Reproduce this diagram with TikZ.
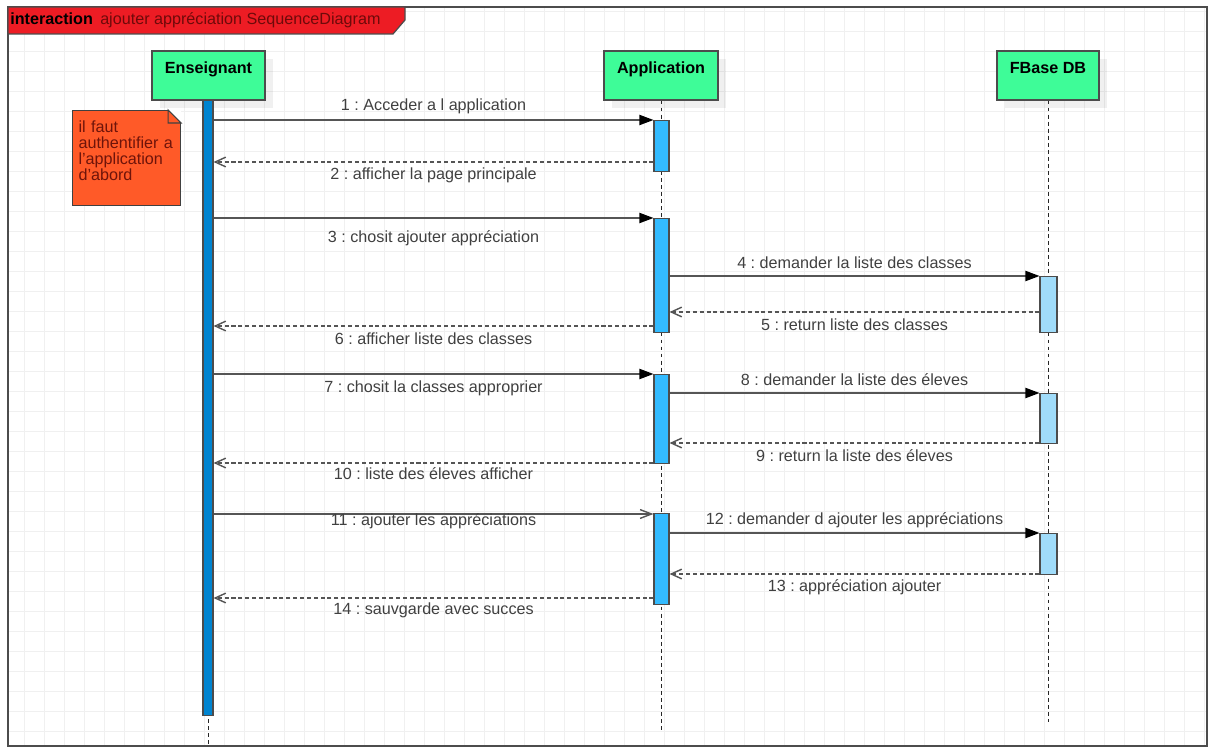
\documentclass[tikz,border=0pt]{standalone}
\usepackage{fontspec}
\setmainfont{Liberation Sans}
\usepackage{tikz}
\usetikzlibrary{positioning, calc, arrows.meta, shadows}
\frenchspacing

\definecolor{headgreen}{RGB}{62,252,152}
\definecolor{tagred}{RGB}{237,28,36}
\definecolor{tagtext}{RGB}{110,10,10}
\definecolor{ensblue}{RGB}{0,132,208}
\definecolor{appblue}{RGB}{51,187,255}
\definecolor{dbblue}{RGB}{160,220,250}
\definecolor{noteorange}{RGB}{255,90,40}
\definecolor{notetext}{RGB}{110,20,10}
\definecolor{msggray}{RGB}{85,85,85}

\tikzset{
    head/.style={draw=black!70, fill=headgreen, line width=0.7pt,
        font=\bfseries\fontsize{9.2}{11}\selectfont, minimum height=0.98cm,
        inner ysep=0pt, text height=12.5pt, text depth=15.3pt,
        drop shadow={shadow xshift=0.16cm, shadow yshift=-0.16cm, fill=black, opacity=0.06}},
    bar/.style={draw=black!70, line width=0.6pt, anchor=north, inner sep=0pt},
    ensbar/.style={bar, fill=ensblue, minimum width=0.2cm},
    appbar/.style={bar, fill=appblue, minimum width=0.3cm},
    dbbar/.style={bar, fill=dbblue, minimum width=0.34cm},
    life/.style={black!85, line width=0.5pt, dash pattern=on 2.2pt off 1.8pt},
    call/.style={msggray, line width=0.8pt, -{Triangle[length=8pt,width=5.8pt,color=black]}},
    opencall/.style={msggray, line width=0.8pt, -{Straight Barb[length=6.5pt,width=5pt]}},
    ret/.style={msggray, line width=0.8pt, dash pattern=on 2.3pt off 1.6pt,
        -{Straight Barb[length=6pt,width=5.5pt]}},
    lbl/.style={font=\fontsize{9.2}{11}\selectfont, text=black!75, inner sep=0pt},
    gridline/.style={black!6, line width=0.5pt}
}

\begin{document}
\begin{tikzpicture}[x=0.02cm, y=-0.02cm]
        \useasboundingbox (0,0) rectangle (1209,749);

        % Grid and frame
        \foreach \x in {24,44,...,1204} {
                \draw[gridline] (\x,7) -- (\x,746);
        }
        \foreach \y in {11,31,...,731} {
                \draw[gridline] (8,\y) -- (1207,\y);
        }
        \draw[black!70, line width=0.7pt] (8,7) rectangle (1207,746);
        \draw[black!70, line width=0.7pt, fill=tagred] (8,7) -- (405,7) -- (405,20) -- (393,34) -- (8,34) -- cycle;
        \node[lbl, text=black, anchor=west] (title) at (10,20.5)
                {\textbf{interaction}\hspace{0.45em}\textcolor{tagtext}{ajouter appréciation SequenceDiagram}};

        % Lifelines
        \node[head, minimum width=2.26cm] (ens) at (208.5,75.5) {Enseignant};
        \node[head, minimum width=2.28cm] (app) at (661,75.5) {Application};
        \node[head, minimum width=2.04cm] (db) at (1048,75.5) {FBase DB};

        \draw[life] (ens.south) -- (ens.south |- 0,746);
        \draw[life] (app.south) -- (app.south |- 0,731);
        \draw[life] (db.south) -- (db.south |- 0,722);

        % Activations
        \node[ensbar, minimum height=12.3cm] (ensbar) at (208,100) {};
        \node[appbar, minimum height=1.02cm] (app1) at (661.5,120) {};
        \node[appbar, minimum height=2.28cm] (app2) at (661.5,218) {};
        \node[appbar, minimum height=1.78cm] (app3) at (661.5,374) {};
        \node[appbar, minimum height=1.82cm] (app4) at (661.5,513) {};
        \node[dbbar, minimum height=1.12cm] (db1) at (1048.5,276) {};
        \node[dbbar, minimum height=1.0cm] (db2) at (1048.5,393) {};
        \node[dbbar, minimum height=0.82cm] (db3) at (1048.5,533) {};

        % Messages Enseignant -> Application
        \foreach \a/\y/\ly/\txt in {app1/120/14/{1 : Acceder a l application},
                                    app2/218/-20/{3 : chosit ajouter appréciation},
                                    app3/374/-14/{7 : chosit la classes approprier}} {
                \draw[call] (ensbar.east |- 0,\y) -- node[lbl, yshift=\ly*0.02cm] {\txt} (\a.west |- 0,\y);
        }
        \draw[opencall] (ensbar.east |- 0,514) -- node[lbl, yshift=-7*0.02cm] {11 : ajouter les appréciations} (app4.west |- 0,514);

        % Messages Application -> FBase DB
        \foreach \a/\b/\y/\txt in {app2/db1/276/{4 : demander la liste des classes},
                                   app3/db2/393/{8 : demander la liste des éleves},
                                   app4/db3/533/{12 : demander d ajouter les appréciations}} {
                \draw[call] (\a.east |- 0,\y) -- node[lbl, yshift=13*0.02cm] {\txt} (\b.west |- 0,\y);
        }

        % Returns FBase DB -> Application
        \foreach \b/\a/\y/\txt in {db1/app2/312/{5 : return liste des classes},
                                   db2/app3/443/{9 : return la liste des éleves},
                                   db3/app4/574/{13 : appréciation ajouter}} {
                \draw[ret] (\b.west |- 0,\y) -- node[lbl, yshift=-13*0.02cm] {\txt} (\a.east |- 0,\y);
        }

        % Returns Application -> Enseignant
        \foreach \a/\y/\ly/\txt in {app1/162/-13/{2 : afficher la page principale},
                                    app2/326/-13/{6 : afficher liste des classes},
                                    app3/463/-11/{10 : liste des éleves afficher},
                                    app4/598/-12/{14 : sauvgarde avec succes}} {
                \draw[ret] (\a.west |- 0,\y) -- node[lbl, yshift=\ly*0.02cm] {\txt} (ensbar.east |- 0,\y);
        }

        % Note
        \node[draw=black!75, fill=noteorange, line width=0.6pt, anchor=north west,
              font=\fontsize{9.2}{9.2}\selectfont, text=notetext, align=left,
              text width=1.92cm, inner xsep=0.12cm, inner ysep=0pt,
              text height=12.5pt, text depth=41.4pt] (note) at (72,110)
                {il faut\\authentifier a\\l'application\\d'abord};
        \fill[white] ([xshift=-0.26cm]note.north east) -- (note.north east) -- ([yshift=-0.26cm]note.north east) -- cycle;
        \draw[black!75, line width=0.6pt, fill=noteorange] ([xshift=-0.26cm]note.north east) -- ([yshift=-0.26cm]note.north east)
                -- ([xshift=-0.26cm, yshift=-0.26cm]note.north east) -- cycle;
\end{tikzpicture}
\end{document}
